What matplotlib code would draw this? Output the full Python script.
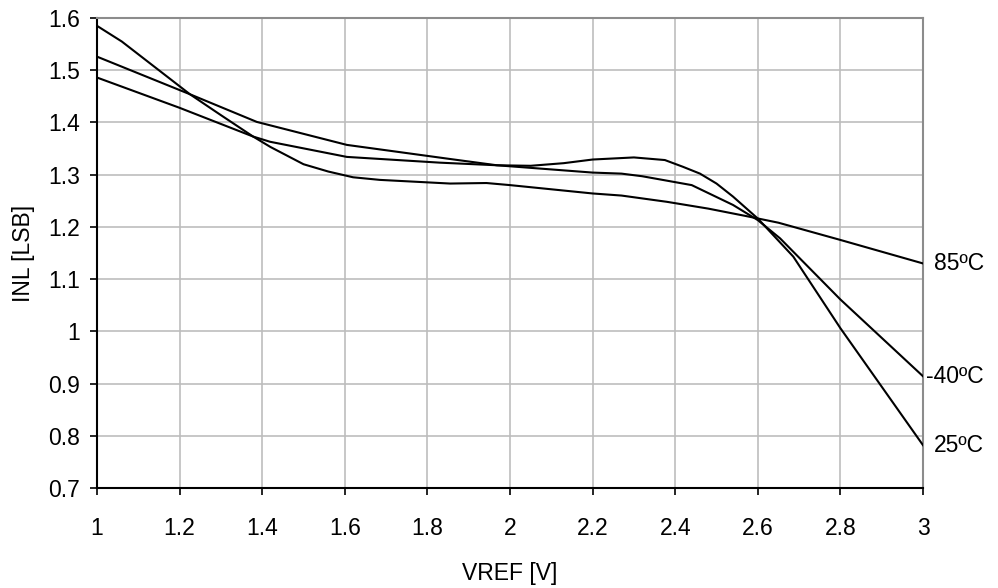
import matplotlib
matplotlib.use('Agg')
import matplotlib.pyplot as plt

# INL vs VREF at three temperatures
vref_85 = [1.0, 1.06, 1.225, 1.3, 1.378, 1.42, 1.5, 1.56, 1.62, 1.685, 1.855, 1.943, 2.0,
           2.2, 2.27, 2.38, 2.48, 2.57, 2.65, 2.8, 3.0]
inl_85 = [1.585, 1.555, 1.454, 1.414, 1.373, 1.353, 1.320, 1.306, 1.295, 1.290, 1.283, 1.284, 1.280,
          1.264, 1.260, 1.248, 1.235, 1.221, 1.208, 1.175, 1.130]

vref_m40 = [1.0, 1.225, 1.387, 1.605, 1.855, 1.968, 2.2, 2.27, 2.32,
            2.44, 2.54, 2.6, 2.654, 2.8, 3.0]
inl_m40 = [1.526, 1.454, 1.401, 1.357, 1.330, 1.318, 1.304, 1.302, 1.297,
           1.280, 1.242, 1.213, 1.178, 1.061, 0.914]

vref_25 = [1.0, 1.2, 1.378, 1.419, 1.605, 1.83, 1.968, 2.05, 2.13, 2.2, 2.3,
           2.375, 2.419, 2.46, 2.5, 2.54, 2.6, 2.686, 2.8, 3.0]
inl_25 = [1.486, 1.428, 1.373, 1.363, 1.334, 1.323, 1.318, 1.317, 1.322, 1.329, 1.333,
          1.328, 1.315, 1.302, 1.283, 1.258, 1.216, 1.143, 1.006, 0.782]

series = [(vref_85, inl_85, '85ºC'), (vref_m40, inl_m40, '-40ºC'), (vref_25, inl_25, '25ºC')]

x_ticks = [1, 1.2, 1.4, 1.6, 1.8, 2, 2.2, 2.4, 2.6, 2.8, 3]
x_tick_labels = ['1', '1.2', '1.4', '1.6', '1.8', '2', '2.2', '2.4', '2.6', '2.8', '3']
y_ticks = [0.7, 0.8, 0.9, 1.0, 1.1, 1.2, 1.3, 1.4, 1.5, 1.6]
y_tick_labels = ['0.7', '0.8', '0.9', '1', '1.1', '1.2', '1.3', '1.4', '1.5', '1.6']

plt.rcParams['font.family'] = ['Liberation Sans Narrow', 'Liberation Sans', 'DejaVu Sans']
fs = 16.5

fig = plt.figure(figsize=(9.98, 5.88), dpi=100)
ax = fig.add_axes([97 / 998, 1 - 488 / 588, 826 / 998, 470 / 588])

for xs, ys, label in series:
    ax.plot(xs, ys, color='black', linewidth=1.5, zorder=3)
    # curve labels sit just right of the plot, right-aligned
    ax.text(3.147, ys[-1], label, ha='right', va='center', fontsize=fs, clip_on=False)

ax.set_xlim(1, 3)
ax.set_ylim(0.7, 1.6)
ax.set_xticks(x_ticks)
ax.set_xticklabels(x_tick_labels)
ax.set_yticks(y_ticks)
ax.set_yticklabels(y_tick_labels)

ax.grid(True, color='#bdbdbd', linewidth=1.2)
ax.set_axisbelow(True)

for side in ['left', 'bottom']:
    ax.spines[side].set_color('black')
    ax.spines[side].set_linewidth(1.5)
for side in ['top', 'right']:
    ax.spines[side].set_color('#8c8c8c')
    ax.spines[side].set_linewidth(1.5)

ax.tick_params(axis='both', direction='out', length=5, width=1.2, color='black', labelsize=fs)
ax.tick_params(axis='x', pad=16)
ax.tick_params(axis='y', pad=7)

ax.set_xlabel('VREF [V]', fontsize=fs, labelpad=16)
ax.set_ylabel('INL [LSB]', fontsize=fs, labelpad=10)

plt.savefig('out.png', dpi=100)
